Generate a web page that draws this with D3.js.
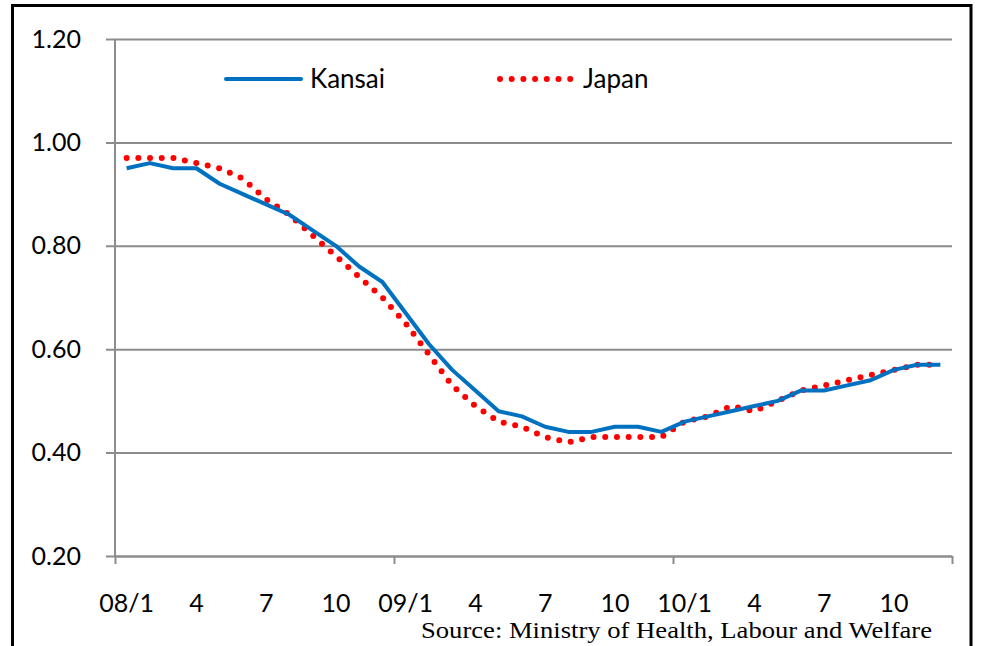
<!DOCTYPE html>
<html>
<head>
<meta charset="utf-8">
<script src="https://cdn.jsdelivr.net/npm/d3@7"></script>
<style>
  html, body { margin: 0; padding: 0; background: #fff; }
  svg { display: block; }
</style>
</head>
<body>
<svg id="chart" width="988" height="646"></svg>
<script>
// ---- data ----
const years = ["08", "09", "10"];
const monthsPerYear = 12;
const labelMonths = [1, 4, 7, 10];
const kansai = [0.95,0.96,0.95,0.95,0.92,0.90,0.88,0.86,0.83,0.80,0.76,0.73,
                0.67,0.61,0.56,0.52,0.48,0.47,0.45,0.44,0.44,0.45,0.45,0.44,
                0.46,0.47,0.48,0.49,0.50,0.52,0.52,0.53,0.54,0.56,0.57,0.57];
const japan  = [0.97,0.97,0.97,0.96,0.95,0.93,0.89,0.86,0.82,0.78,0.74,0.70,
                0.65,0.59,0.53,0.49,0.46,0.45,0.43,0.42,0.43,0.43,0.43,0.43,
                0.46,0.47,0.49,0.48,0.50,0.52,0.53,0.54,0.55,0.56,0.57,0.57];
const yTicks = [0.20, 0.40, 0.60, 0.80, 1.00, 1.20];
const seriesNames = ["Kansai", "Japan"];
const sourceText = "Source: Ministry of Health, Labour and Welfare";

// ---- layout ----
const svg = d3.select("#chart");
const L = 115, R = 952, T = 39, B = 556;
const n = kansai.length;
const cats = d3.range(n);
const x = d3.scaleBand().domain(cats).range([L, R]).paddingInner(0).paddingOuter(0);
const xc = i => x(i) + x.bandwidth() / 2;
const xLin = d3.scaleLinear().domain([0, n]).range([L, R]);
const y = d3.scaleLinear().domain([0.2, 1.2]).range([B, T]);
const gridColor = "#8c8c8c";
const font = "Lato, 'Open Sans', sans-serif";
const fs = 25;

// frame
svg.append("rect").attr("x", 12.5).attr("y", 5.5).attr("width", 958.5).attr("height", 660)
  .attr("fill", "none").attr("stroke", "#000").attr("stroke-width", 3);

// y gridlines + labels
const yAxis = d3.axisLeft(y).tickValues(yTicks).tickSize(-(R - L)).tickSizeOuter(0)
  .tickFormat(d3.format(".2f"));
const gy = svg.append("g").attr("transform", `translate(${L},0)`).call(yAxis);
gy.select(".domain").remove();
gy.selectAll(".tick line").attr("stroke", gridColor).attr("stroke-width", 2)
  .attr("x1", -9).attr("x2", R - L);
gy.selectAll(".tick text").attr("font-family", font).attr("font-size", fs)
  .attr("fill", "#000").attr("x", -34);

// y axis line
svg.append("line").attr("x1", L).attr("x2", L).attr("y1", T).attr("y2", B)
  .attr("stroke", gridColor).attr("stroke-width", 2);

// x axis tick marks at year boundaries
const xAxisTicks = d3.axisBottom(xLin).tickValues(d3.range(0, n + 1, monthsPerYear))
  .tickSize(8).tickSizeOuter(0).tickFormat("");
const gx = svg.append("g").attr("transform", `translate(0,${B})`).call(xAxisTicks);
gx.select(".domain").attr("stroke", gridColor).attr("stroke-width", 2);
gx.selectAll(".tick line").attr("stroke", gridColor).attr("stroke-width", 2);

// x labels
const labelIdx = [];
const labelText = {};
years.forEach((yy, yi) => {
  labelMonths.forEach(m => {
    const i = yi * monthsPerYear + (m - 1);
    labelIdx.push(i);
    labelText[i] = m === 1 ? `${yy}/${m}` : `${m}`;
  });
});
const xAxisLabels = d3.axisBottom(x).tickValues(labelIdx).tickSize(0)
  .tickFormat(i => labelText[i]).tickPadding(0);
const gxl = svg.append("g").attr("transform", `translate(0,${B})`).call(xAxisLabels);
gxl.select(".domain").remove();
gxl.selectAll(".tick text").attr("font-family", font).attr("font-size", fs)
  .attr("fill", "#000").attr("dy", null).attr("y", 56);

// lines
const line = d3.line().x((d, i) => xc(i)).y(d => y(d));
svg.append("path").datum(japan).attr("d", line)
  .attr("fill", "none").attr("stroke", "#ff0000").attr("stroke-width", 6)
  .attr("stroke-linecap", "round").attr("stroke-dasharray", "0 11.7");
svg.append("path").datum(kansai).attr("d", line)
  .attr("fill", "none").attr("stroke", "#0070c0").attr("stroke-width", 4)
  .attr("stroke-linejoin", "round");

// legend
const lg = svg.append("g");
lg.append("line").attr("x1", 226).attr("x2", 301).attr("y1", 79).attr("y2", 79)
  .attr("stroke", "#0070c0").attr("stroke-width", 4).attr("stroke-linecap", "round");
lg.append("text").attr("x", 310).attr("y", 88).text(seriesNames[0])
  .attr("font-family", font).attr("font-size", 26).attr("fill", "#000");
lg.append("line").attr("x1", 500).attr("x2", 571).attr("y1", 79).attr("y2", 79)
  .attr("stroke", "#ff0000").attr("stroke-width", 6).attr("stroke-linecap", "round")
  .attr("stroke-dasharray", "0 11.7");
lg.append("text").attr("x", 583).attr("y", 88).text(seriesNames[1])
  .attr("font-family", font).attr("font-size", 26).attr("fill", "#000");

// source
svg.append("text").attr("x", 932).attr("y", 638).attr("text-anchor", "end")
  .attr("font-family", "'Liberation Serif', 'Times New Roman', serif").attr("font-size", 23)
  .attr("textLength", 511).attr("lengthAdjust", "spacingAndGlyphs")
  .attr("fill", "#000").text(sourceText);
</script>
</body>
</html>
